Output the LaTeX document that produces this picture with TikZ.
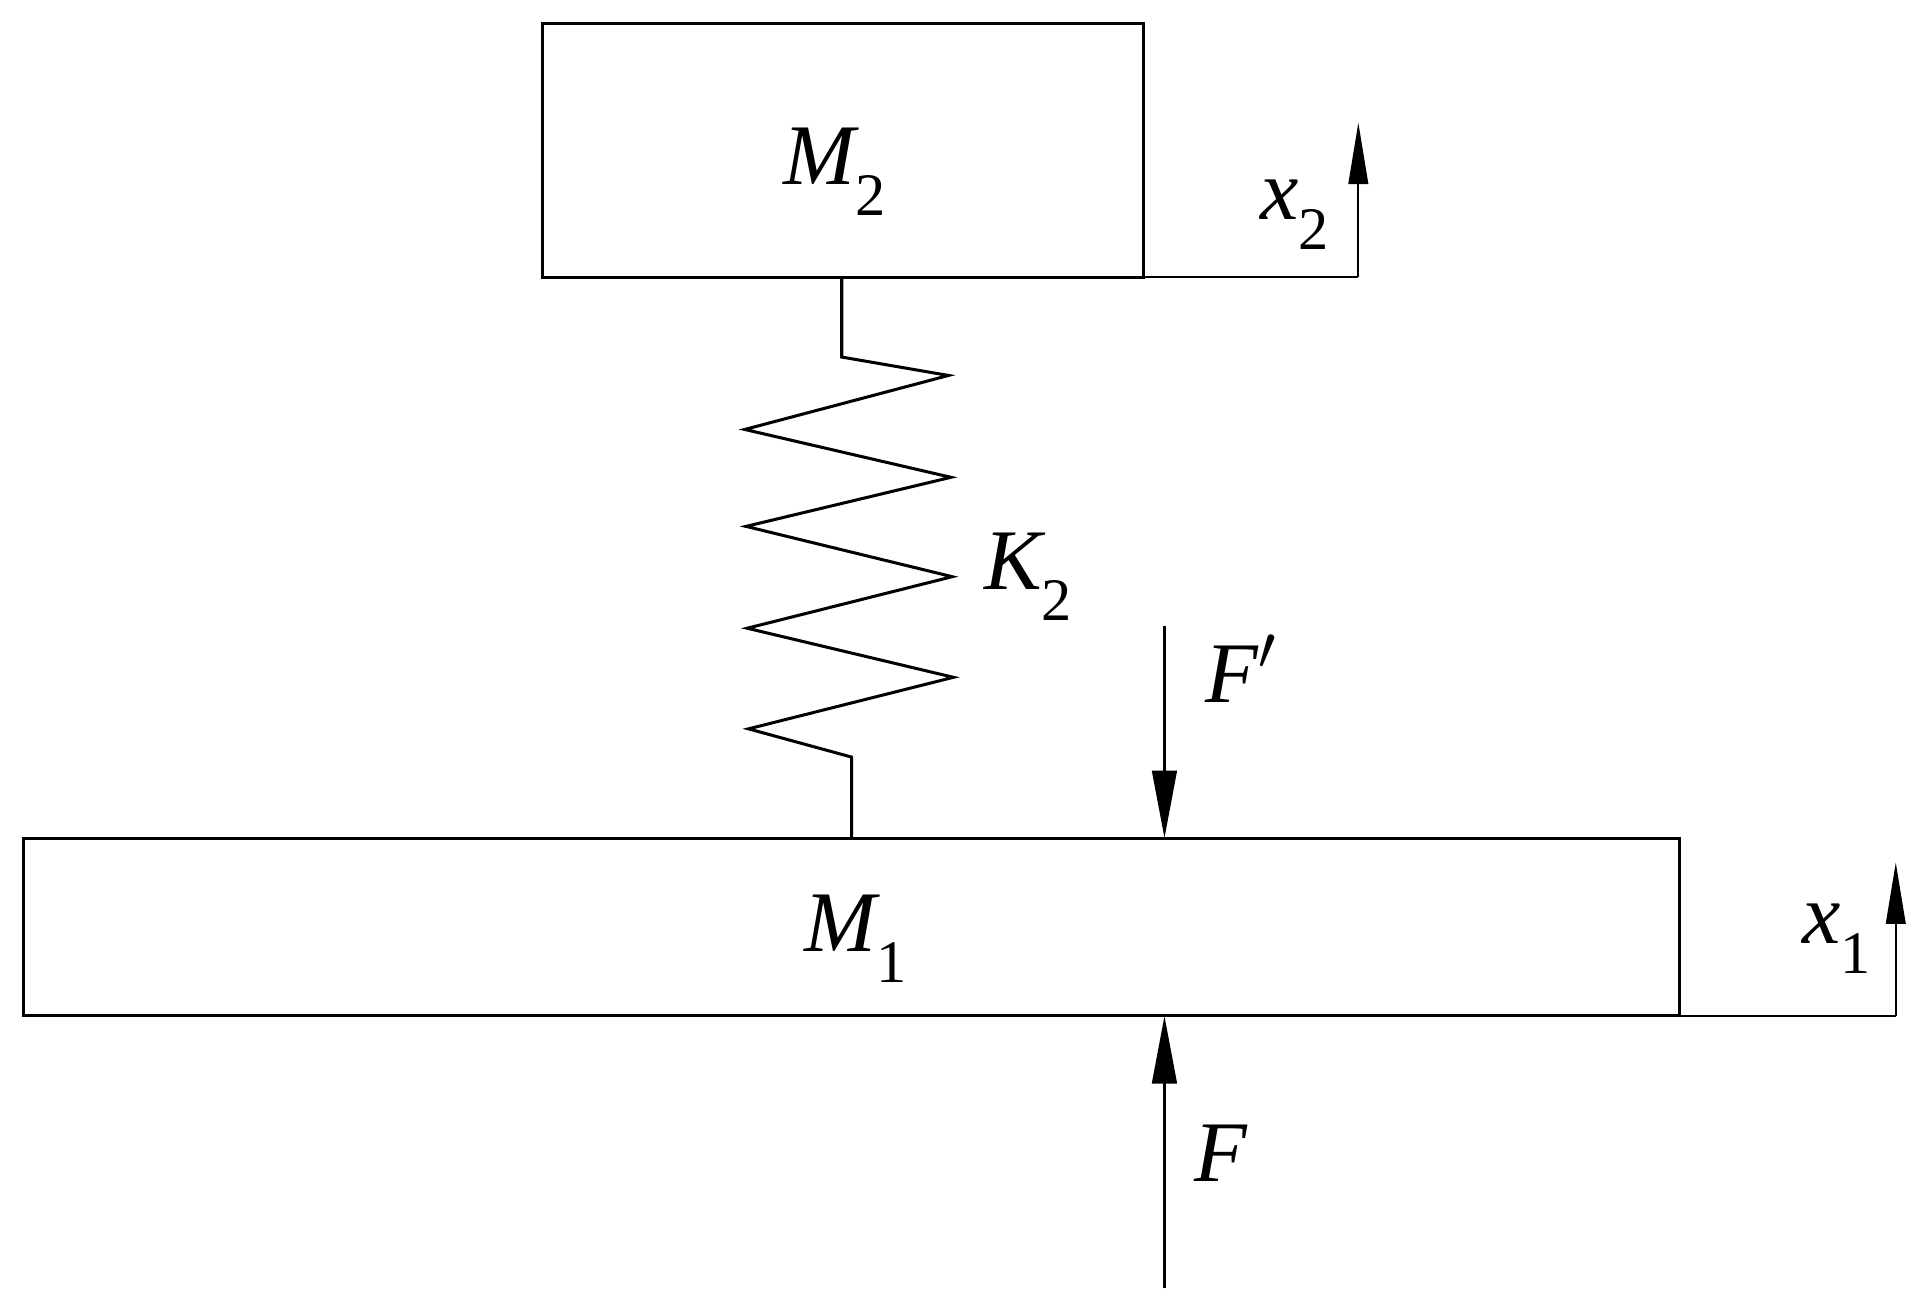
\documentclass[tikz,border=0pt]{standalone}
\usepackage{fontspec}
\setmainfont{Liberation Serif}
\usetikzlibrary{arrows.meta}
\newcommand{\lbl}[2]{{\itshape #1}\raisebox{-0.35em}{\fontsize{14}{16}\selectfont #2}}
\begin{document}
\begin{tikzpicture}[x=0.01cm,y=-0.01cm,
  box/.style={draw,line width=0.7pt},
  thin/.style={line width=0.45pt},
  arr/.style={line width=0.7pt,-{Triangle[length=0.55cm,width=0.2cm]}},
  txt/.style={font=\fontsize{20}{24}\selectfont}]
\useasboundingbox (0,0) rectangle (1568,1067);
\draw[box] (442,19) rectangle (932,226);
\node[txt] (m2) at (680,140) {\lbl{M}{2}};
\coordinate (x2a) at (932,226); \coordinate (x2b) at (1107,226); \coordinate (x2c) at (1107,100);
\draw[thin] (x2a) -- (x2b);
\draw[thin,-{Triangle[length=0.5cm,width=0.16cm]}] (x2b) -- (x2c);
\node[txt] (x2) at (1055,175) {\lbl{x}{2}};
\draw[line width=0.7pt] (686,226) -- (686,291) -- (773,306) -- (607,350) -- (775,389) -- (608,429) -- (776,470) -- (609,512) -- (777,552) -- (610,594) -- (694,617) -- (694,683);
\node[txt] (k2) at (838,470) {\lbl{K}{2}};
\draw[box] (19,683) rectangle (1369,828);
\node[txt] (m1) at (697,765) {\lbl{M}{1}};
\coordinate (x1a) at (1369,828); \coordinate (x1b) at (1545,828); \coordinate (x1c) at (1545,703);
\draw[thin] (x1a) -- (x1b);
\draw[thin,-{Triangle[length=0.5cm,width=0.16cm]}] (x1b) -- (x1c);
\node[txt] (x1) at (1497,765) {\lbl{x}{1}};
\coordinate (fpa) at (949,510); \coordinate (fpb) at (949,683);
\draw[arr] (fpa) -- (fpb);
\node[txt] (fp) at (1012,545) {{\itshape F}$'$};
\coordinate (fa) at (949,1050); \coordinate (fb) at (949,828);
\draw[arr] (fa) -- (fb);
\node[txt] (f) at (995,940) {\itshape F};
\end{tikzpicture}
\end{document}
